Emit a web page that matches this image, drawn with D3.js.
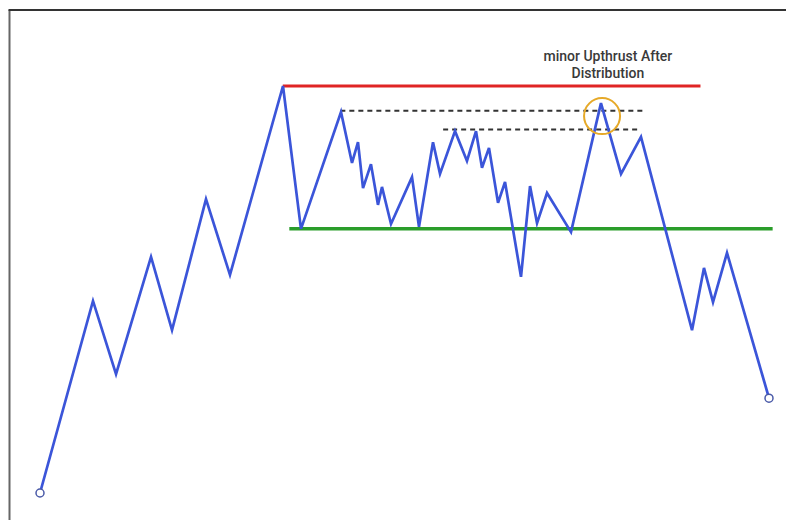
<!DOCTYPE html>
<html>
<head>
<meta charset="utf-8">
<script src="https://cdn.jsdelivr.net/npm/d3@7"></script>
<style>
  html, body { margin: 0; padding: 0; background: #fff; overflow: hidden; }
  svg { display: block; }
</style>
</head>
<body>
<svg id="chart" width="786" height="520"></svg>
<script>
// Price path (time, price)
const times  = [0, 7.27, 10.43, 15.23, 18.11, 22.77, 26.06, 33.33, 35.80, 41.29, 42.80, 43.62, 44.31, 45.40, 46.36, 46.91, 48.15,
                51.03, 51.99, 53.91, 54.87, 56.93, 58.57, 59.81, 60.63, 61.59, 62.83, 63.79, 65.98, 67.22, 68.18, 69.55, 72.84,
                76.95, 79.70, 82.44, 89.44, 91.08, 92.32, 94.24, 100];
const prices = [0, 47.2, 29.2, 58.0, 40.0, 72.2, 53.6, 100, 64.9, 93.6, 81.1, 86.2, 74.9, 80.8, 70.8, 75.2, 66.1,
                77.6, 65.4, 86.2, 78.4, 88.9, 81.6, 88.9, 79.9, 84.8, 71.3, 76.4, 53.1, 75.4, 66.3, 73.7, 64.1,
                95.8, 78.4, 87.5, 40.0, 55.3, 46.9, 59.0, 23.3];

// Horizontal levels: [price, startTime, endTime]
const resistance = [100, 33.3, 90.6];
const support    = [64.9, 34.2, 100.5];
const dashedLevels = [[93.9, 41.2, 83.0], [89.3, 55.3, 82.3]];

// Annotation
const upthrust = {t: 77.1, p: 92.6};
const labelLines = ["minor Upthrust After", "Distribution"];
const labelPos = {t: 77.9, p: 106.1};

const svg = d3.select("#chart");
const x = d3.scaleLinear().domain([0, 100]).range([40, 769]);
const y = d3.scaleLinear().domain([0, 100]).range([493, 86]);

// Frame (top and left edges visible)
svg.append("line").attr("x1", 9.5).attr("x2", 9.5).attr("y1", 10).attr("y2", 520)
  .attr("stroke", "#666").attr("stroke-width", 2);
svg.append("line").attr("x1", 8.5).attr("x2", 786).attr("y1", 10).attr("y2", 10)
  .attr("stroke", "#333").attr("stroke-width", 2);

// Levels
svg.append("line")
  .attr("x1", x(resistance[1])).attr("x2", x(resistance[2]))
  .attr("y1", y(resistance[0])).attr("y2", y(resistance[0]))
  .attr("stroke", "#e02424").attr("stroke-width", 3);
svg.append("line")
  .attr("x1", x(support[1])).attr("x2", x(support[2]))
  .attr("y1", y(support[0])).attr("y2", y(support[0]))
  .attr("stroke", "#2a9d2a").attr("stroke-width", 3.5);
svg.selectAll("line.dash").data(dashedLevels).join("line").attr("class", "dash")
  .attr("x1", d => x(d[1])).attr("x2", d => x(d[2]))
  .attr("y1", d => y(d[0])).attr("y2", d => y(d[0]))
  .attr("stroke", "#333").attr("stroke-width", 2).attr("stroke-dasharray", "5,4");

// Price line
const pts = times.map((t, i) => ({t, p: prices[i]}));
const line = d3.line().x(d => x(d.t)).y(d => y(d.p));
svg.append("path").datum(pts).attr("d", line)
  .attr("fill", "none").attr("stroke", "#3b55d9").attr("stroke-width", 2.7)
  .attr("stroke-linejoin", "miter");

// End markers
svg.selectAll("circle.end").data([pts[0], pts[pts.length - 1]]).join("circle").attr("class", "end")
  .attr("cx", d => x(d.t)).attr("cy", d => y(d.p)).attr("r", 4)
  .attr("fill", "#fff").attr("stroke", "#4a5aa8").attr("stroke-width", 1.5);

// Upthrust circle
svg.append("circle").attr("cx", x(upthrust.t)).attr("cy", y(upthrust.p)).attr("r", 18)
  .attr("fill", "none").attr("stroke", "#e6a928").attr("stroke-width", 2);

// Label
const txt = svg.append("text").attr("x", x(labelPos.t)).attr("y", y(labelPos.p))
  .attr("text-anchor", "middle").attr("font-family", "Roboto, sans-serif")
  .attr("font-size", 14).attr("font-weight", 500).attr("fill", "#3a3a3a");
labelLines.forEach((s, i) => txt.append("tspan").attr("x", x(labelPos.t)).attr("dy", i === 0 ? 0 : 16.5).text(s));
</script>
</body>
</html>
